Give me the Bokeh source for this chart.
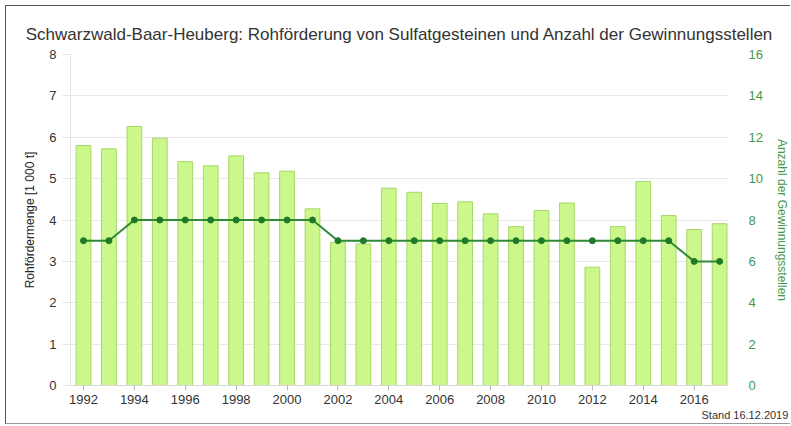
from bokeh.plotting import figure
from bokeh.models import Range1d, LinearAxis, Title, FixedTicker, ColumnDataSource
from bokeh.embed import file_html
from bokeh.resources import INLINE

years = list(range(1992, 2018))
rohfoerderung = [5.80, 5.72, 6.26, 5.98, 5.41, 5.31, 5.55, 5.14, 5.18, 4.27,
                 3.46, 3.42, 4.77, 4.67, 4.40, 4.44, 4.15, 3.84, 4.23, 4.41,
                 2.86, 3.84, 4.93, 4.11, 3.77, 3.91]
gewinnungsstellen = [7, 7, 8, 8, 8, 8, 8, 8, 8, 8,
                     7, 7, 7, 7, 7, 7, 7, 7, 7, 7,
                     7, 7, 7, 7, 6, 6]
x_ticks = list(range(1992, 2017, 2))
left_ticks = list(range(0, 9))
right_ticks = list(range(0, 17, 2))

title_text = "Schwarzwald-Baar-Heuberg: Rohförderung von Sulfatgesteinen und Anzahl der Gewinnungsstellen"
stand_text = "Stand 16.12.2019"

FONT = "Liberation Sans"
GREEN_TXT = "#3f9a4a"

src = ColumnDataSource(dict(x=years, y=rohfoerderung, n=gewinnungsstellen))

p = figure(width=785, height=419, output_backend="svg", toolbar_location=None,
           x_range=Range1d(1991.49, 2017.35), y_range=Range1d(0, 8),
           min_border_left=64, min_border_right=58, min_border_top=48, min_border_bottom=40)
p.extra_y_ranges = {"anz": Range1d(0, 16)}
p.outline_line_color = None
p.background_fill_color = "white"
p.border_fill_color = "white"
p.styles = {"margin-left": "5px", "margin-top": "5px",
            "border-left": "1px solid #555", "border-top": "1px solid #555",
            "border-bottom": "1px solid #999"}

p.vbar(x="x", top="y", width=0.58, source=src, fill_color="#ccf78a", line_color="#a6d86c", line_width=1)
p.line(x="x", y="n", source=src, y_range_name="anz", line_color="#2f8a36", line_width=2)
p.scatter(x="x", y="n", source=src, y_range_name="anz", size=6, fill_color="#1f7a28", line_color="#1f7a28")

p.xgrid.grid_line_color = None
p.ygrid.grid_line_color = "#e8e8e8"
p.ygrid.ticker = FixedTicker(ticks=left_ticks)

xa = p.xaxis[0]
xa.ticker = FixedTicker(ticks=x_ticks)
xa.axis_line_color = "#d8d8d8"
xa.major_tick_line_color = "#bbbbbb"
xa.major_tick_out = 5
xa.major_tick_in = 0
xa.minor_tick_line_color = None
xa.major_label_standoff = 4
xa.major_label_text_font = FONT
xa.major_label_text_font_size = "13px"
xa.major_label_text_color = "#333333"

ya = p.yaxis[0]
ya.ticker = FixedTicker(ticks=left_ticks)
ya.axis_line_color = "#e4e4e4"
ya.major_tick_line_color = "#e4e4e4"
ya.major_tick_out = 8
ya.major_tick_in = 0
ya.minor_tick_line_color = None
ya.major_label_standoff = 6
ya.major_label_text_font = FONT
ya.major_label_text_font_size = "13px"
ya.major_label_text_color = "#333333"
ya.axis_label = "Rohfördermenge [1 000 t]"
ya.axis_label_text_font = FONT
ya.axis_label_text_font_size = "12px"
ya.axis_label_text_font_style = "normal"
ya.axis_label_text_color = "#222222"
ya.axis_label_standoff = 9

ra = LinearAxis(y_range_name="anz", ticker=FixedTicker(ticks=right_ticks))
ra.axis_line_color = None
ra.major_tick_line_color = None
ra.minor_tick_line_color = None
ra.major_label_standoff = 14
ra.major_label_text_font = FONT
ra.major_label_text_font_size = "13px"
ra.major_label_text_color = GREEN_TXT
ra.axis_label = "Anzahl der Gewinnungsstellen"
ra.axis_label_text_font = FONT
ra.axis_label_text_font_size = "12px"
ra.axis_label_text_font_style = "normal"
ra.axis_label_text_color = GREEN_TXT
ra.axis_label_standoff = 9
p.add_layout(ra, "right")

p.title = Title(text=title_text, align="center", text_font=FONT, text_font_size="17px",
                text_font_style="normal", text_color="#333333", standoff=21)
p.add_layout(Title(text=stand_text, align="left", offset=631, text_font=FONT, text_font_size="11px",
                   text_font_style="normal", text_color="#333333", standoff=0), "below")

open("out.html", "w").write(file_html(p, INLINE))
